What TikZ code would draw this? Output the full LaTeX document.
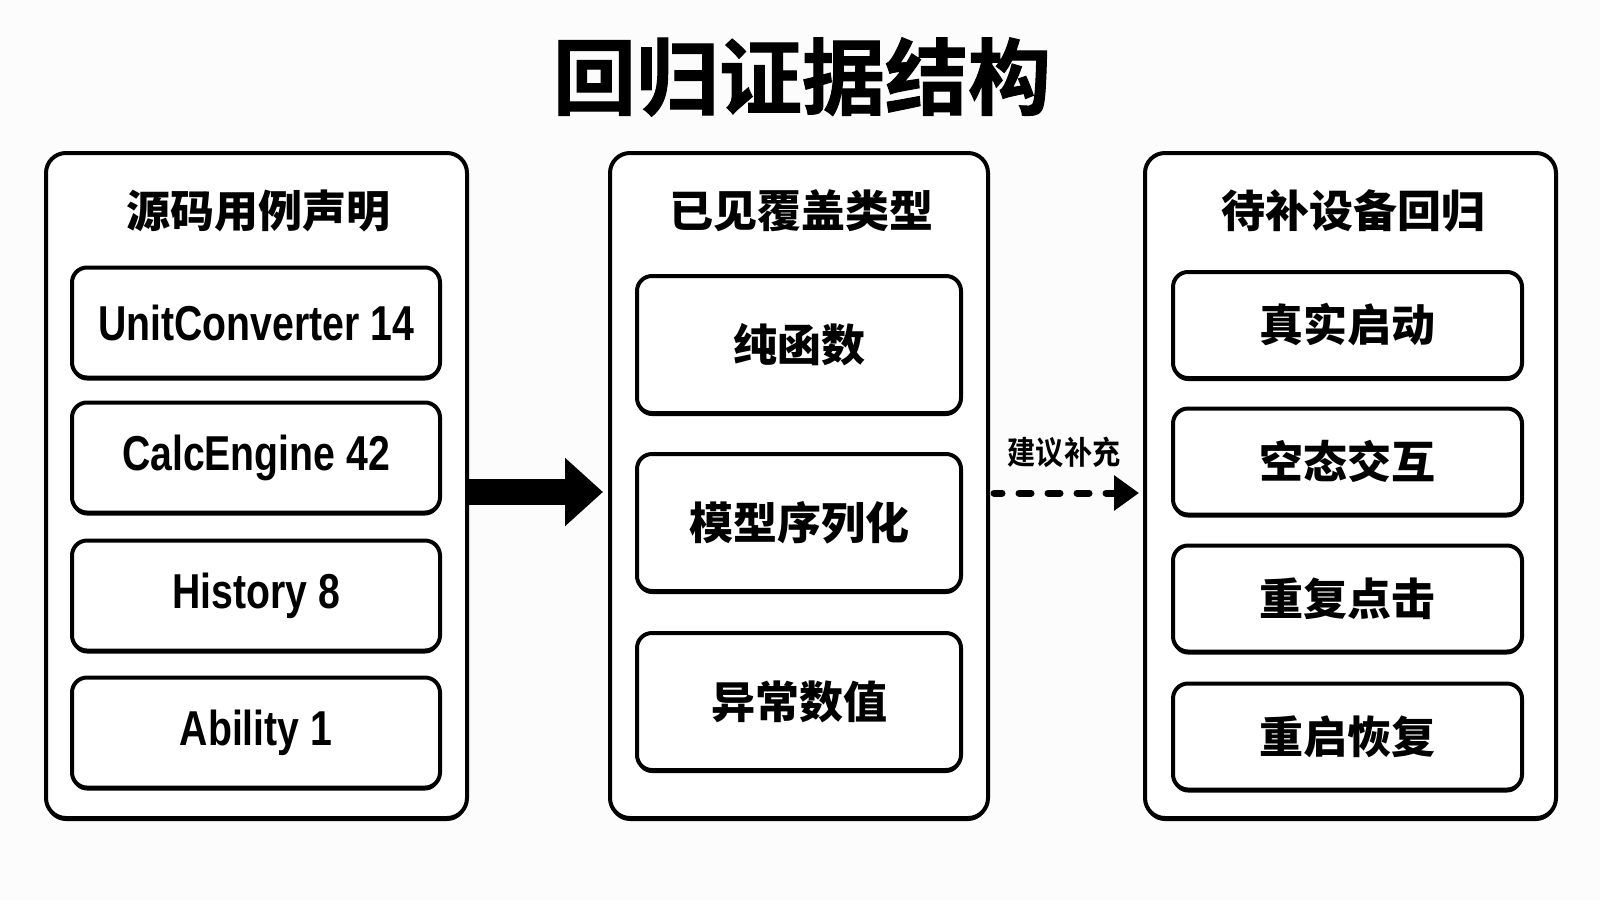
\documentclass[tikz,border=0pt]{standalone}
\usepackage{fontspec}
\setmainfont{Noto Sans CJK SC}
\newfontfamily\latinfont{Liberation Sans}[FakeStretch=0.8]
\newfontfamily\titlefont{Noto Sans CJK SC}[UprightFont=* Bold,FakeBold=1.2]
\newfontfamily\labelfont{Noto Sans CJK SC}[UprightFont=* Bold,FakeStretch=0.88]
\usetikzlibrary{arrows.meta,shadows}
\begin{document}
\begin{tikzpicture}[x=1pt,y=-1pt,
  panel/.style={draw=black,line width=4pt,rounded corners=20pt,fill=white,
    drop shadow={shadow xshift=0pt,shadow yshift=-3pt,fill=black,opacity=1},
    minimum height=665pt,inner sep=0pt},
  item/.style={draw=black,line width=4pt,rounded corners=15pt,fill=white,
    drop shadow={shadow xshift=0pt,shadow yshift=-3pt,fill=black,opacity=1},
    inner sep=0pt,align=center},
  cjk/.style={font=\fontsize{44pt}{48pt}\selectfont\bfseries},
  lat/.style={font=\fontsize{49pt}{52pt}\selectfont\latinfont\bfseries},
  head/.style={font=\fontsize{44pt}{48pt}\selectfont\bfseries,inner sep=0pt}
]
\fill[gray!2] (0,0) rectangle (1600,900);
\useasboundingbox (0,0) rectangle (1600,900);

\node[font=\fontsize{83pt}{90pt}\selectfont\titlefont,inner sep=0pt] (title) at (802,77) {回归证据结构};

% panels
\node[panel,minimum width=421pt] (L) at (256.5,485.5) {};
\node[panel,minimum width=378pt] (M) at (799,485.5) {};
\node[panel,minimum width=411pt] (R) at (1350.5,485.5) {};

\node[head] (Lh) at (258,211) {源码用例声明};
\node[head] (Mh) at (801,211) {已见覆盖类型};
\node[head] (Rh) at (1353,211) {待补设备回归};

% left items
\node[item,lat,minimum width=368pt,minimum height=110pt] (L1) at (256,322.5) {UnitConverter 14};
\node[item,lat,minimum width=368pt,minimum height=110pt] (L2) at (256,457.5) {CalcEngine 42};
\node[item,lat,minimum width=368pt,minimum height=110pt] (L3) at (256,595.5) {History 8};
\node[item,lat,minimum width=368pt,minimum height=110pt] (L4) at (256,732.5) {Ability 1};

% middle items
\node[item,cjk,minimum width=324pt,minimum height=137pt] (M1) at (799,344.5) {纯函数};
\node[item,cjk,minimum width=324pt,minimum height=137pt] (M2) at (799,522.5) {模型序列化};
\node[item,cjk,minimum width=324pt,minimum height=137pt] (M3) at (799,701.5) {异常数值};

% right items
\node[item,cjk,minimum width=349pt,minimum height=106pt] (R1) at (1347.5,325) {真实启动};
\node[item,cjk,minimum width=349pt,minimum height=106pt] (R2) at (1347.5,461.5) {空态交互};
\node[item,cjk,minimum width=349pt,minimum height=106pt] (R3) at (1347.5,598.5) {重复点击};
\node[item,cjk,minimum width=349pt,minimum height=106pt] (R4) at (1347.5,736.5) {重启恢复};

% arrows
\draw[line width=26pt,-{Triangle[length=38pt,width=66pt]}]
  ([yshift=-6.5pt,xshift=-2pt]L.east) -- ([yshift=-6.5pt,xshift=-5pt]M.west);
\draw[line width=7pt,line cap=round,dash pattern=on 12pt off 17pt,dash phase=4pt,
  -{Triangle[length=25pt,width=34pt]}]
  ([yshift=-7.5pt,xshift=4pt]M.east) -- ([yshift=-7.5pt,xshift=-4pt]R.west);
\node[font=\fontsize{32pt}{34pt}\selectfont\labelfont,inner sep=0pt] (lab) at (1064,452) {建议补充};
\end{tikzpicture}
\end{document}
